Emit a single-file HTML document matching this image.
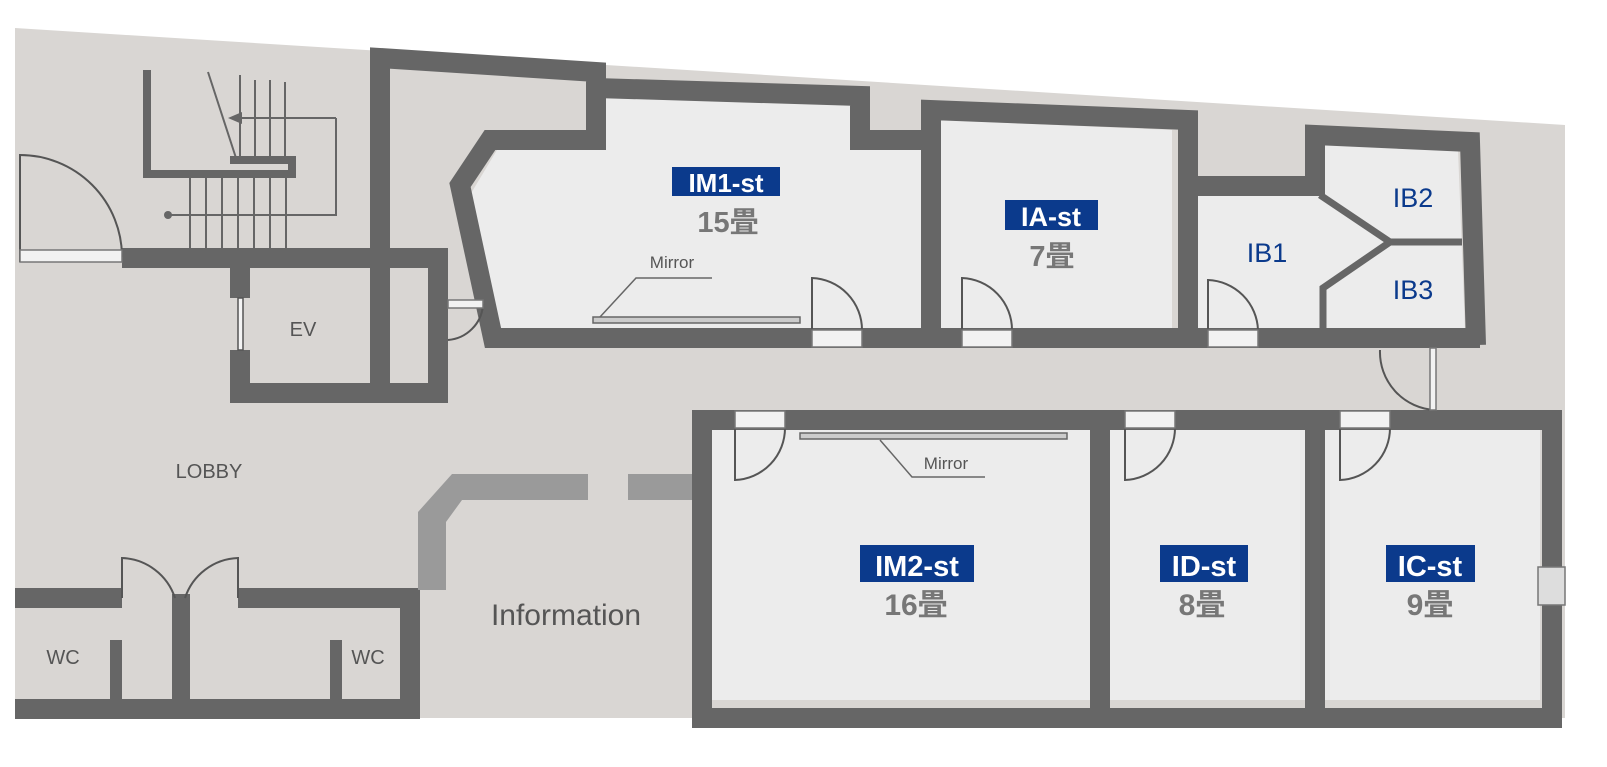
<!DOCTYPE html>
<html><head><meta charset="utf-8"><style>
html,body{margin:0;padding:0;background:#fff;}
svg{display:block;}
.lbl{font-family:"Liberation Sans","Noto Sans CJK JP",sans-serif;}
</style></head><body>
<svg width="1607" height="767" viewBox="0 0 1607 767" xmlns="http://www.w3.org/2000/svg">
<!-- background floor -->
<polygon points="15,28 1565,125 1565,718 15,718" fill="#d9d6d3"/>
<!-- rooms light -->
<g fill="#ececec">
<polygon points="605,98 855,100 855,148 925,148 925,330 500,330 470,195 497,150 605,150"/>
<polygon points="940,120 1172,130 1172,330 940,330"/>
<polygon points="1190,192 1320,192 1320,145 1458,150 1465,330 1190,330"/>
<rect x="710" y="428" width="380" height="272"/>
<rect x="1110" y="428" width="195" height="272"/>
<rect x="1325" y="428" width="215" height="272"/>
</g>
<!-- walls -->
<g fill="none" stroke="#666" stroke-linejoin="miter" stroke-width="20">
<path d="M380,398 V58 L596,72 V140 H490 L460,185 L493,338 H1480"/>
<path d="M596,88 L860,96 V140 H932"/>
<path d="M931,338 V110 L1188,120 V338"/>
<path d="M1188,186 H1315 V135 L1470,142 L1476,345"/>
<path d="M702,718 V420 H1552 V718 Z"/>
<path d="M1100,420 V708 M1315,420 V708"/>
<path d="M122,258 H438 V393 H240 V350 M240,298 V258"/>
<path d="M15,598 H122 M238,598 H410 V709 H15"/>
</g>
<g fill="#666">
<rect x="172" y="594" width="18" height="110"/>
<rect x="110" y="640" width="12" height="62"/>
<rect x="330" y="640" width="12" height="62"/>
</g>
<!-- room dividers IB -->
<g fill="none" stroke="#666" stroke-width="7">
<path d="M1320,195 L1390,242 L1323,288 V330"/>
<path d="M1390,242 H1462"/>
</g>
<!-- info counter -->
<g fill="#9a9a9a">
<path d="M588,474 H452 L418,512 V590 H446 V522 L462,500 H588 Z"/>
<rect x="628" y="474" width="64" height="26"/>
</g>
<!-- EV door -->
<g stroke="#555" stroke-width="1.5" fill="#f4f4f4">
<rect x="238" y="298" width="5" height="52"/>
</g>
<!-- stairs -->
<g stroke="#666" fill="none">
<path d="M147,70 V174 H292 V160 H230" stroke-width="8"/>
<path d="M190,178 V250 M206,178 V250 M222,178 V250 M238,178 V250 M254,178 V250 M270,178 V250 M286,178 V250" stroke-width="2"/>
<path d="M240,75 V160 M255,80 V160 M270,80 V160 M285,82 V160" stroke-width="2"/>
<path d="M208,72 L236,158" stroke-width="2"/>
<path d="M336,118 H240 M336,118 V215 H168" stroke-width="2"/>
</g>
<polygon points="228,118 242,112 242,124" fill="#666"/>
<circle cx="168" cy="215" r="4" fill="#666"/>
<!-- doors -->
<g stroke="#555" stroke-width="2" fill="none">
<path d="M20,262 V155 A102,102 0 0 1 122,257"/>
<path d="M812,330 V278 A52,52 0 0 1 862,330"/>
<path d="M962,330 V278 A52,52 0 0 1 1012,330"/>
<path d="M1208,330 V280 A52,52 0 0 1 1258,330"/>
<path d="M735,428 V480 A52,52 0 0 0 785,428"/>
<path d="M1125,428 V480 A52,52 0 0 0 1175,428"/>
<path d="M1340,428 V480 A52,52 0 0 0 1390,428"/>
<path d="M1435,350 V410 A58,58 0 0 1 1380,350"/>
<path d="M448,340 A38,38 0 0 0 483,305 H448"/>
<path d="M122,598 V558 A58,58 0 0 1 175,598"/>
<path d="M238,598 V558 A58,58 0 0 0 185,598"/>
</g>
<g fill="#f2f2f2" stroke="#777" stroke-width="1.5">
<rect x="20" y="250" width="102" height="12"/>
<rect x="812" y="330" width="50" height="17"/>
<rect x="962" y="330" width="50" height="17"/>
<rect x="1208" y="330" width="50" height="17"/>
<rect x="735" y="411" width="50" height="17"/>
<rect x="1125" y="411" width="50" height="17"/>
<rect x="1340" y="411" width="50" height="17"/>
<rect x="1430" y="348" width="6" height="62"/>
<rect x="448" y="300" width="35" height="8"/>
<rect x="1538" y="567" width="27" height="38" fill="#ddd"/>
</g>
<!-- mirrors -->
<g stroke="#666" fill="#ccc" stroke-width="1.5">
<rect x="593" y="317" width="207" height="6"/>
<rect x="800" y="433" width="267" height="6"/>
</g>
<g stroke="#666" fill="none" stroke-width="1.5">
<path d="M600,317 L636,278 H712"/>
<path d="M880,440 L912,477 H985"/>
</g>
<!-- labels -->
<g class="lbl">
<text x="672" y="268" font-size="17" fill="#555" text-anchor="middle">Mirror</text>
<text x="946" y="469" font-size="17" fill="#555" text-anchor="middle">Mirror</text>
<text x="303" y="336" font-size="20" fill="#555" text-anchor="middle">EV</text>
<text x="209" y="478" font-size="20" fill="#555" text-anchor="middle">LOBBY</text>
<text x="566" y="625" font-size="30" fill="#555" text-anchor="middle">Information</text>
<text x="63" y="664" font-size="20" fill="#555" text-anchor="middle">WC</text>
<text x="368" y="664" font-size="20" fill="#555" text-anchor="middle">WC</text>
</g>
<g fill="#0b3a8c">
<rect x="672" y="167" width="108" height="29"/>
<rect x="1005" y="200" width="93" height="30"/>
<rect x="860" y="545" width="114" height="37"/>
<rect x="1160" y="545" width="88" height="37"/>
<rect x="1386" y="545" width="89" height="37"/>
</g>
<g class="lbl" font-weight="bold" fill="#fff" text-anchor="middle">
<text x="726" y="192" font-size="26">IM1-st</text>
<text x="1051" y="226" font-size="27">IA-st</text>
<text x="917" y="576" font-size="29">IM2-st</text>
<text x="1204" y="576" font-size="29">ID-st</text>
<text x="1430" y="576" font-size="29">IC-st</text>
</g>
<g class="lbl" font-weight="bold" fill="#777" text-anchor="middle">
<text x="728" y="232" font-size="29">15畳</text>
<text x="1052" y="266" font-size="29">7畳</text>
<text x="916" y="615" font-size="30">16畳</text>
<text x="1202" y="615" font-size="30">8畳</text>
<text x="1430" y="615" font-size="30">9畳</text>
</g>
<g class="lbl" fill="#0b3a8c" font-size="27" text-anchor="middle">
<text x="1267" y="262">IB1</text>
<text x="1413" y="207">IB2</text>
<text x="1413" y="299">IB3</text>
</g>
</svg>
</body></html>
